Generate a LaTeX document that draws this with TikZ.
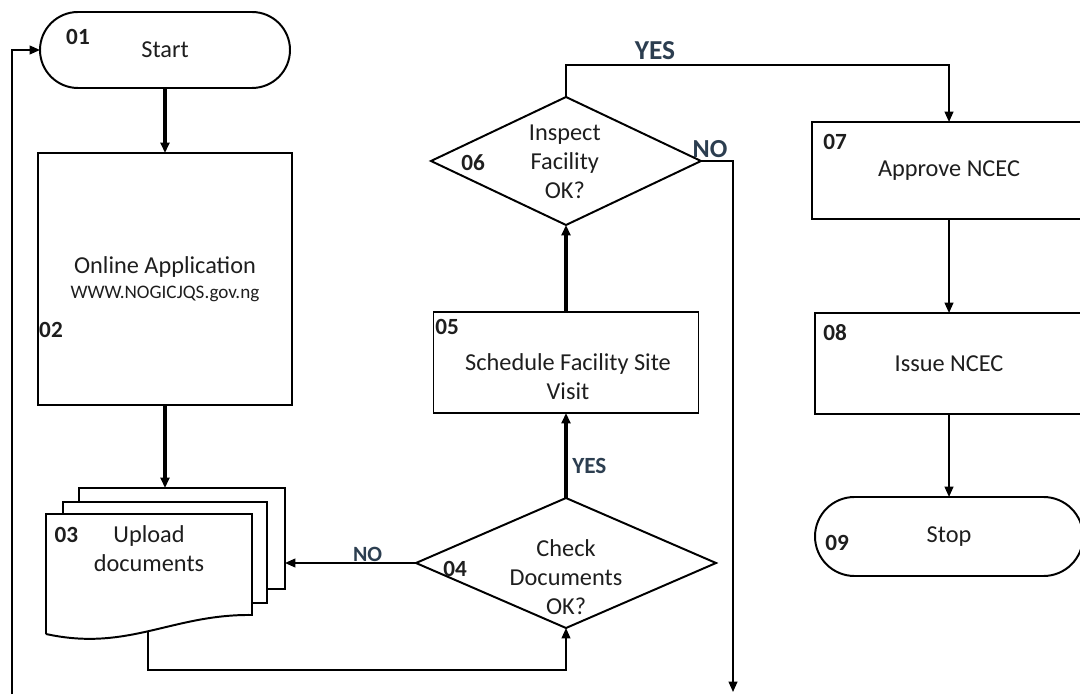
\documentclass[tikz,border=0pt]{standalone}
\usepackage{fontspec}
\setmainfont{Carlito}
\usepackage{xcolor}
\usepackage{tikz}
\usetikzlibrary{arrows.meta,shapes.geometric,shapes.misc}
\definecolor{lblcol}{RGB}{44,62,80}
\definecolor{txtcol}{RGB}{30,30,30}

\begin{document}
\begin{tikzpicture}[
  x=1.0cm, y=1.0cm,
  shp/.style={draw, line width=1.4pt, inner sep=0pt, outer sep=0pt, align=center, text=txtcol, font=\fontsize{17.3}{20.6}\selectfont},
  term/.style={shp, rounded rectangle},
  dec/.style={shp, diamond},
  txt/.style={inner sep=0pt, align=center, text=txtcol, font=\fontsize{17.3}{20.6}\selectfont},
  num/.style={inner sep=0pt, text=txtcol, font=\bfseries\fontsize{16.5}{19}\selectfont},
  lbl/.style={inner sep=0pt, text=lblcol, anchor=base},
  edge/.style={-{Triangle[length=2.6mm,width=2.2mm]}, line width=1.2pt, draw=black},
  bold edge/.style={edge, line width=2.4pt}
]
\useasboundingbox (0,0) rectangle (27,17.35);

\node[term, minimum width=6.25cm, minimum height=1.9cm] (start) at (4.125,16.1) {Start};
\node[shp, minimum width=6.35cm, minimum height=6.3cm] (app) at (4.125,10.375)
  {Online Application\\[-3pt]{\fontsize{13.6}{16}\selectfont WWW.NOGICJQS.gov.ng}};

% document stack
\draw[line width=1.4pt] (1.975,4.8) -- (1.975,5.15) -- (7.125,5.15) -- (7.125,2.625) -- (6.675,2.625);
\draw[line width=1.4pt] (1.575,4.5) -- (1.575,4.8) -- (6.675,4.8) -- (6.675,2.275) -- (6.3,2.275);
\draw[line width=1.4pt, fill=white] (1.15,1.5) -- (1.15,4.5) -- (6.3,4.5) -- (6.3,1.975)
  .. controls (4.3,2.0) and (3.2,1.05) .. (1.15,1.5);
\node[txt] (upload) at (3.725,3.6375) {Upload\\documents};
\coordinate (stacktop) at (4.125,5.15);
\coordinate (stackside) at (7.125,3.275);
\coordinate (docfoot) at (3.7,1.56);

\node[dec, minimum width=7.5cm, minimum height=3.25cm] (check) at (14.15,3.275) {};
\node[txt] (checktxt) at (14.15,2.925) {Check\\Documents\\OK?};
\node[shp, minimum width=6.625cm, minimum height=2.525cm] (sched) at (14.15,8.2875) {};
\node[txt] (schedtxt) at (14.2,7.925) {Schedule Facility Site\\Visit};
\node[dec, minimum width=6.75cm, minimum height=3.2cm] (insp) at (14.15,13.325) {};
\node[txt] (insptxt) at (14.12,13.3) {Inspect\\Facility\\OK?};

\node[shp, minimum width=6.85cm, minimum height=2.425cm] (approve) at (23.725,13.0875) {Approve NCEC};
\node[shp, minimum width=6.7cm, minimum height=2.525cm] (issue) at (23.725,8.2625) {Issue NCEC};
\node[term, minimum width=6.7cm, minimum height=1.975cm] (stop) at (23.725,3.9375) {Stop};

% step numbers
\node[num] (n01) at (1.95,16.425) {01};
\node[num] (n02) at (1.275,9.1) {02};
\node[num] (n03) at (1.66,3.975) {03};
\node[num] (n04) at (11.375,3.125) {04};
\node[num] (n05) at (11.175,9.175) {05};
\node[num] (n06) at (11.83,13.275) {06};
\node[num] (n07) at (20.875,13.8) {07};
\node[num] (n08) at (20.875,9.025) {08};
\node[num] (n09) at (20.925,3.775) {09};

\coordinate (loopfoot) at (0.3,0);
\coordinate (noend) at (18.325,0.05);

\draw[bold edge] (start.south) -- (app.north);
\draw[bold edge] (app.south) -- (stacktop);
\draw[edge] (check.west) -- (stackside);
\draw[edge] (docfoot) -- (3.7,0.6) -| (check.south);
\draw[bold edge] (check.north) -- (sched.south);
\draw[bold edge] (sched.north) -- (insp.south);
\draw[edge] (insp.north) -- ++(0,0.8) -| (approve.north);
\draw[edge] (insp.east) -| (noend);
\draw[edge] (approve.south) -- (issue.north);
\draw[edge] (issue.south) -- (stop.north);
\draw[edge] (loopfoot) |- (start.west);

% branch labels
\node[lbl, font=\bfseries\fontsize{15.5}{17}\selectfont] (no1) at (9.19,3.32) {NO};
\node[lbl, font=\bfseries\fontsize{16.5}{18}\selectfont, anchor=base west] (yes1) at (14.3,5.52) {YES};
\node[lbl, font=\bfseries\fontsize{19.5}{21}\selectfont] (yes2) at (16.375,15.86) {YES};
\node[lbl, font=\bfseries\fontsize{18.5}{20}\selectfont] (no2) at (17.75,13.4) {NO};
\end{tikzpicture}
\end{document}
